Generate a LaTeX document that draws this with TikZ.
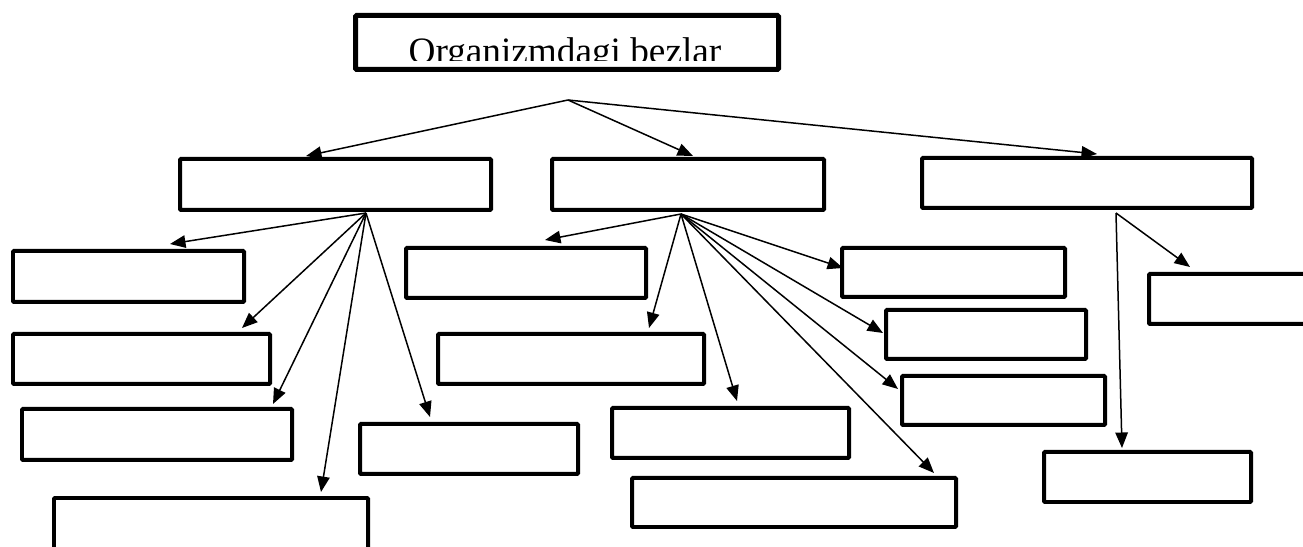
\documentclass[tikz,border=0pt]{standalone}
\usepackage{fontspec}
\setmainfont{Liberation Serif}
\usetikzlibrary{arrows.meta}
% one unit = 0.02cm, y grows downward
\tikzset{
  box/.style={draw, line width=0.08cm, rounded corners=0.6pt, inner sep=0pt, outer sep=0pt, fill=white},
  titlebox/.style={box, line width=0.1cm},
  link/.style={line width=0.03cm, -{Triangle[length=0.31cm,width=0.25cm]}},
  titletext/.style={font=\fontsize{21.2}{25}\selectfont, inner sep=0pt, anchor=base}
}
% \plainbox{name}{x1}{y1}{x2}{y2}: box by its outer edges
\newcommand\plainbox[5]{%
  \node[box, anchor=north west,
        minimum width={(#4-#2-4)*0.02cm},
        minimum height={(#5-#3-4)*0.02cm}] (#1) at ({#2+2},{#3+2}) {};}
\begin{document}
\begin{tikzpicture}[x=0.02cm, y=-0.02cm]
\useasboundingbox (0,0) rectangle (1303,547);
\clip (0,0) rectangle (1303,547);

% title
\node[titlebox, anchor=north west,
      minimum width={(781-353-5)*0.02cm},
      minimum height={(72-13-5)*0.02cm}] (title) at (355.5,15.5) {};
\begin{scope}
  \clip (353,0) rectangle (781,61);
  \node[titletext] (titlelabel) at (565,63.5) {Organizmdagi bezlar};
\end{scope}

% first level
\plainbox{A}{178}{157}{493}{212}
\plainbox{B}{550}{157}{826}{212}
\plainbox{C}{920}{156}{1254}{210}

% second level
\plainbox{A1}{11}{249}{246}{304}
\plainbox{A2}{11}{332}{272}{386}
\plainbox{A3}{20}{407}{294}{462}
\plainbox{A4}{52}{496}{370}{570}
\plainbox{A5}{358}{422}{580}{476}
\plainbox{B1}{404}{246}{648}{300}
\plainbox{B2}{436}{332}{706}{386}
\plainbox{B3}{610}{406}{851}{460}
\plainbox{B4}{630}{476}{958}{529}
\plainbox{B5}{840}{246}{1067}{299}
\plainbox{B6}{884}{308}{1088}{361}
\plainbox{B7}{900}{374}{1107}{427}
\plainbox{C1}{1147}{272}{1340}{326}
\plainbox{C2}{1042}{450}{1253}{504}

% branching points
\coordinate (Tout) at (568,100);
\coordinate (Aout) at (366,213);
\coordinate (Bout) at (681,214);
\coordinate (Cout) at (1116,213);

% arrow ends
\coordinate (Ain) at (306,156);
\coordinate (Bin) at (693,156);
\coordinate (Cin) at (1097,154);
\coordinate (A1in) at (170,244);
\coordinate (A2in) at (242,328);
\coordinate (A3in) at (273,404);
\coordinate (A4in) at (321,492);
\coordinate (A5in) at (430,417);
\coordinate (B1in) at (545,240);
\coordinate (B2in) at (649,328);
\coordinate (B3in) at (737,401);
\coordinate (B4in) at (934,473);
\coordinate (B5in) at (843,268);
\coordinate (B6in) at (883,333);
\coordinate (B7in) at (898,389);
\coordinate (C1in) at (1190,267);
\coordinate (C2in) at (1122,448);

\foreach \s/\t in {Tout/Ain, Tout/Bin, Tout/Cin,
                   Aout/A1in, Aout/A2in, Aout/A3in, Aout/A4in, Aout/A5in,
                   Bout/B1in, Bout/B2in, Bout/B3in, Bout/B4in, Bout/B5in, Bout/B6in, Bout/B7in,
                   Cout/C1in, Cout/C2in}
  \draw[link] (\s) -- (\t);
\end{tikzpicture}
\end{document}
